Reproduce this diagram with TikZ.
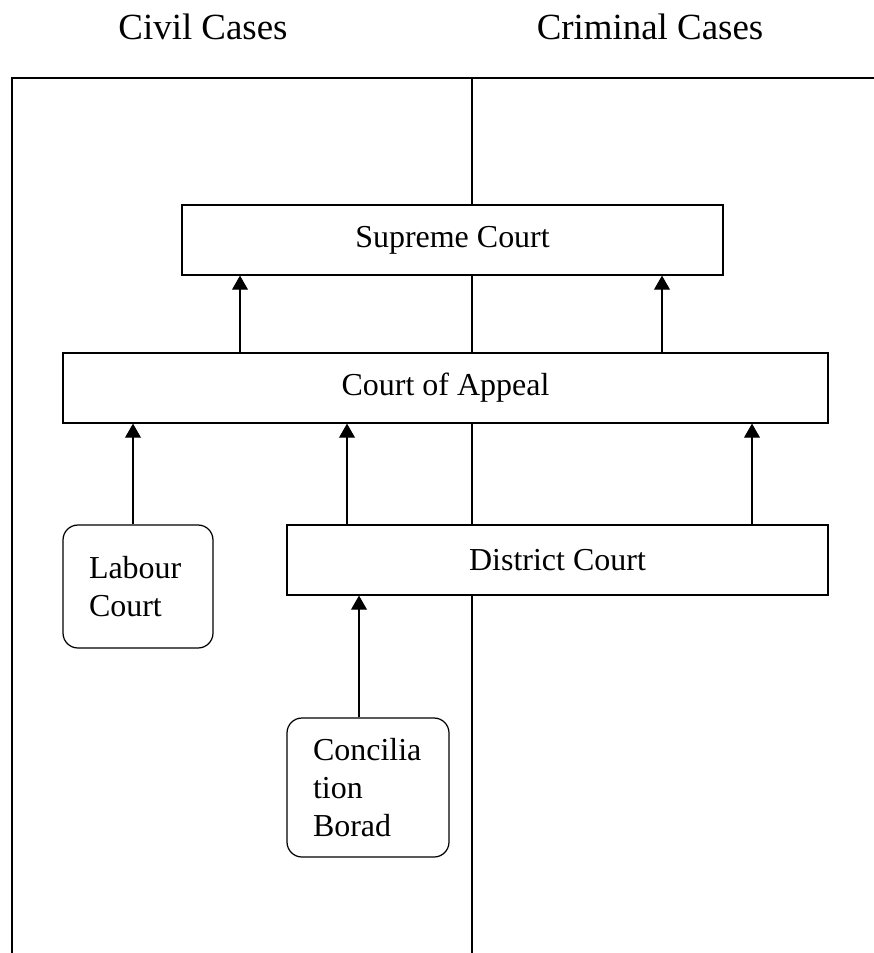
\documentclass[tikz,border=0pt]{standalone}
\usepackage{fontspec}
\setmainfont{Liberation Serif}
\usetikzlibrary{arrows.meta}

\begin{document}
\begin{tikzpicture}[x=0.02cm, y=-0.02cm, line width=0.7pt, ->, >={Triangle[length=8pt,width=9pt]}]
  \tikzstyle{court}=[rectangle, draw, fill=white, inner sep=0pt, font=\fontsize{18.2}{21.5}\selectfont]
  \tikzstyle{lowcourt}=[court, rounded corners=8.5pt, align=left, inner xsep=0.52cm]
  \tikzstyle{title}=[anchor=base, font=\fontsize{21}{25}\selectfont]
  \useasboundingbox (0,0) rectangle (874,953);
  \node[title] (T_civ) at (203,40) {Civil Cases};
  \node[title] (T_cri) at (650,40) {Criminal Cases};
  % frame
  \draw[-] (874,78) -- (12,78) -- (12,953);
  \draw[-] (472,78) -- (472,953);
  % courts
  \node[court, minimum width=10.82cm, minimum height=1.4cm] (C_sup) at (452.5,240) {Supreme Court};
  \node[court, minimum width=15.3cm, minimum height=1.4cm] (C_app) at (445.5,388) {Court of Appeal};
  \node[court, minimum width=10.82cm, minimum height=1.4cm] (C_dis) at (557.5,560) {District Court};
  \node[lowcourt, text width=1.96cm, minimum height=2.46cm] (C_lab) at (138,586.5) {Labour\\Court};
  \node[lowcourt, text width=2.2cm, minimum height=2.78cm] (C_con) at (368,787.5) {Concilia\\tion\\Borad};
  % appeals
  \draw (C_app.north -| 240,0) -- (C_sup.south -| 240,0);
  \draw (C_app.north -| 662,0) -- (C_sup.south -| 662,0);
  \draw (C_lab.north -| 133,0) -- (C_app.south -| 133,0);
  \draw (C_dis.north -| 347,0) -- (C_app.south -| 347,0);
  \draw (C_dis.north -| 752,0) -- (C_app.south -| 752,0);
  \draw (C_con.north -| 359,0) -- (C_dis.south -| 359,0);
\end{tikzpicture}
\end{document}
